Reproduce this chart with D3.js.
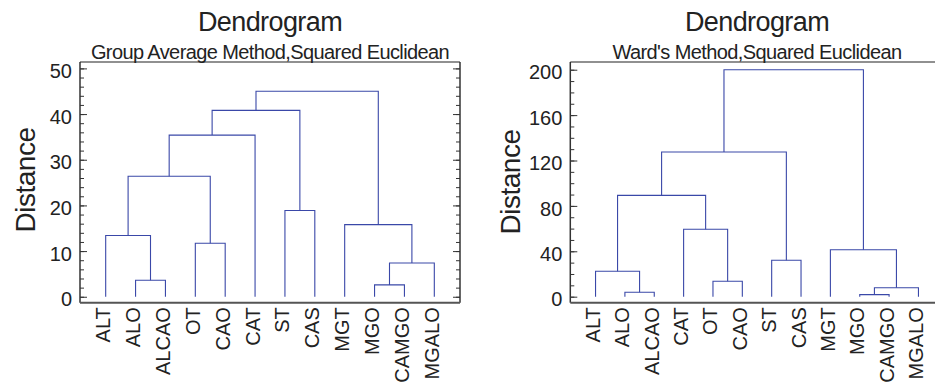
<!DOCTYPE html>
<html>
<head>
<meta charset="utf-8">
<script src="https://cdn.jsdelivr.net/npm/d3@7"></script>
<style>
  body { margin: 0; background: #fff; }
  svg { display: block; font-family: "Liberation Sans", Arial, sans-serif; }
  .title { fill: #222; }
  .axis text { fill: #222; font-size: 20px; }
  .axis line { stroke: #333; }
  .link { fill: none; stroke: #3a48a8; stroke-width: 1.1; }
</style>
</head>
<body>
<svg id="chart"></svg>
<script>
// --- data: leaves in display order, merges as [childA, childB] (leaf index < 12, cluster = 12 + merge index)
const leavesAvg = ['ALT', 'ALO', 'ALCAO', 'OT', 'CAO', 'CAT', 'ST', 'CAS', 'MGT', 'MGO', 'CAMGO', 'MGALO'];
const pairsAvg = [[9, 10], [1, 2], [12, 11], [3, 4], [0, 13], [8, 14], [6, 7], [16, 15], [19, 5], [20, 18], [21, 17]];
const heightsAvg = [2.6, 3.6, 7.4, 11.7, 13.4, 15.8, 18.9, 26.4, 35.4, 40.8, 45.0];
const ticksAvg = [0, 10, 20, 30, 40, 50];
const minorAvg = d3.range(0, 51, 2);

const leavesWard = ['ALT', 'ALO', 'ALCAO', 'CAT', 'OT', 'CAO', 'ST', 'CAS', 'MGT', 'MGO', 'CAMGO', 'MGALO'];
const pairsWard = [[9, 10], [1, 2], [12, 11], [4, 5], [0, 13], [6, 7], [8, 14], [3, 15], [16, 19], [20, 17], [21, 18]];
const heightsWard = [1.8, 3.9, 7.9, 13.6, 22.4, 32.1, 41.4, 59.4, 89.3, 127.5, 200];
const ticksWard = [0, 40, 80, 120, 160, 200];
const minorWard = d3.range(0, 201, 10);

const W = 935, H = 383;
const svg = d3.select('#chart').attr('width', W).attr('height', H);

function drawDendrogram(cfg) {
    const g = svg.append('g');
    const { left, right, top, bottom } = cfg.box;

    const x = d3.scalePoint().domain(cfg.leaves).range([left, right]).padding(0.86);
    const y = d3.scaleLinear().domain(cfg.yDomain).range([bottom, top]);

    // node positions: leaves first, then clusters in merge order
    const nodes = cfg.leaves.map(d => ({ x: x(d), h: 0 }));
    cfg.pairs.forEach(([a, b], i) => {
        nodes.push({ x: (nodes[a].x + nodes[b].x) / 2, h: cfg.heights[i] });
    });

    g.selectAll('.link')
        .data(cfg.pairs)
        .join('path')
        .attr('class', 'link')
        .attr('d', ([a, b], i) => {
            const hy = y(cfg.heights[i]);
            return `M${nodes[a].x},${y(nodes[a].h)}V${hy}H${nodes[b].x}V${y(nodes[b].h)}`;
        });

    // left axis: inward major + minor ticks
    const yAxisG = g.append('g').attr('class', 'axis').attr('transform', `translate(${left},0)`);
    yAxisG.call(d3.axisLeft(y).tickValues(cfg.ticks).tickSize(-7).tickPadding(8));
    yAxisG.selectAll('text').attr('dy', '0.46em');
    yAxisG.append('g').call(d3.axisLeft(y).tickValues(cfg.minor).tickSize(-4).tickFormat(''));
    yAxisG.selectAll('.domain').remove();

    // right border ticks (pointing inward)
    const rAxisG = g.append('g').attr('class', 'axis').attr('transform', `translate(${right},0)`);
    rAxisG.call(d3.axisRight(y).tickValues(cfg.ticks).tickSize(-7).tickFormat(''));
    rAxisG.append('g').call(d3.axisRight(y).tickValues(cfg.minor).tickSize(-4).tickFormat(''));
    rAxisG.selectAll('.domain').remove();

    // frame
    g.append('line').attr('x1', left).attr('x2', left).attr('y1', top).attr('y2', bottom)
        .attr('stroke', '#333').attr('stroke-width', 1.5);
    g.append('line').attr('x1', right).attr('x2', right).attr('y1', top).attr('y2', bottom)
        .attr('stroke', '#333').attr('stroke-width', 1.5);
    g.append('line').attr('x1', left).attr('x2', right).attr('y1', top).attr('y2', top)
        .attr('stroke', '#222').attr('stroke-width', 1.2);
    g.append('line').attr('x1', left).attr('x2', right).attr('y1', bottom).attr('y2', bottom)
        .attr('stroke', '#555').attr('stroke-width', 2);

    // leaf labels, rotated
    const xAxisG = g.append('g').attr('class', 'axis').attr('transform', `translate(0,${bottom})`);
    xAxisG.call(d3.axisBottom(x).tickSize(0));
    xAxisG.selectAll('.domain').remove();
    xAxisG.selectAll('text')
        .attr('transform', 'rotate(-90)')
        .attr('text-anchor', 'end')
        .attr('x', -4.5)
        .attr('y', 4)
        .attr('dy', 0);

    // titles
    const cx = (left + right) / 2;
    g.append('text').attr('class', 'title')
        .attr('x', cx).attr('y', 31)
        .attr('text-anchor', 'middle')
        .attr('font-size', 27).attr('letter-spacing', -0.6)
        .text('Dendrogram');
    g.append('text').attr('class', 'title')
        .attr('x', cx).attr('y', 59)
        .attr('text-anchor', 'middle')
        .attr('font-size', 20).attr('letter-spacing', -0.6)
        .text(cfg.subtitle);
    g.append('text').attr('class', 'title')
        .attr('transform', `translate(${cfg.labelX},${cfg.labelY}) rotate(-90)`)
        .attr('text-anchor', 'middle')
        .attr('font-size', 28).attr('letter-spacing', -0.5)
        .text('Distance');
}

drawDendrogram({
    leaves: leavesAvg, pairs: pairsAvg, heights: heightsAvg,
    ticks: ticksAvg, minor: minorAvg, yDomain: [-1.3, 51.4],
    box: { left: 80, right: 460, top: 62, bottom: 302.7 },
    subtitle: 'Group Average Method,Squared Euclidean',
    labelX: 34.5, labelY: 180
});

drawDendrogram({
    leaves: leavesWard, pairs: pairsWard, heights: heightsWard,
    ticks: ticksWard, minor: minorWard, yDomain: [-5.3, 206.8],
    box: { left: 570.3, right: 943.7, top: 62, bottom: 302.7 },
    subtitle: "Ward's Method,Squared Euclidean",
    labelX: 519.5, labelY: 182
});
</script>
</body>
</html>
